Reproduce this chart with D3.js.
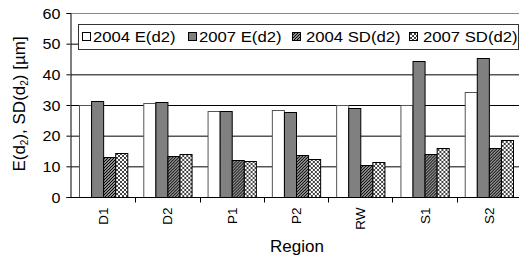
<!DOCTYPE html>
<html>
<head>
<meta charset="utf-8">
<script src="https://cdn.jsdelivr.net/npm/d3@7"></script>
<style>
  body { margin: 0; background: #fff; }
  text { font-family: "Liberation Sans", Arial, sans-serif; fill: #000; }
</style>
</head>
<body>
<div id="chart"></div>
<script>
// data
var regions = ["D1", "D2", "P1", "P2", "RW", "S1", "S2"];
var seriesNames = ["2004 E(d2)", "2007 E(d2)", "2004 SD(d2)", "2007 SD(d2)"];
var e2004 = [30.0, 30.5, 27.9, 28.4, 29.9, 30.0, 34.2];
var e2007 = [31.2, 30.9, 27.9, 27.8, 29.1, 44.3, 45.2];
var sd2004 = [12.9, 13.5, 12.2, 13.6, 10.5, 14.0, 15.9];
var sd2007 = [14.2, 13.9, 11.8, 12.3, 11.3, 16.0, 18.5];
var yTicks = [0, 10, 20, 30, 40, 50, 60];

var W = 519, H = 262;
var stretch = 1.15; // text in the picture is a bit wide

var svg = d3.select("#chart").append("svg")
  .attr("width", W).attr("height", H);

// patterns
var defs = svg.append("defs");
var hatch = defs.append("pattern").attr("id", "hatch")
  .attr("patternUnits", "userSpaceOnUse").attr("width", 3).attr("height", 3);
hatch.append("rect").attr("width", 3).attr("height", 3).attr("fill", "#fff");
hatch.append("path").attr("d", "M-1,1 L1,-1 M0,3 L3,0 M2,4 L4,2")
  .attr("stroke", "#000").attr("stroke-width", 1.3);

var check = defs.append("pattern").attr("id", "check")
  .attr("patternUnits", "userSpaceOnUse").attr("width", 4).attr("height", 4);
check.append("rect").attr("width", 4).attr("height", 4).attr("fill", "#fff");
check.append("path").attr("d", "M0,0 L4,4 M4,0 L0,4")
  .attr("stroke", "#444").attr("stroke-width", 1);

var fills = ["#fff", "#808080", "url(#hatch)", "url(#check)"];
var strokes = ["#555", "#000", "#000", "#000"];
var data = [e2004, e2007, sd2004, sd2007];

// scales
var x = d3.scaleBand().domain(regions).range([71, 521]).padding(0);
var xs = d3.scaleBand().domain(d3.range(4)).range([8, x.bandwidth() - 8]);
var y = d3.scaleLinear().domain([0, 60]).range([197, 13]);

function stretchText(sel) {
  sel.each(function() {
    var w = this.getComputedTextLength();
    d3.select(this).attr("textLength", w * stretch).attr("lengthAdjust", "spacingAndGlyphs");
  });
}

// grid
svg.append("g").selectAll("line").data(yTicks.filter(function(d) { return d > 0; }))
  .enter().append("line")
  .attr("x1", 71).attr("x2", 521)
  .attr("y1", function(d) { return y(d) + 0.5; })
  .attr("y2", function(d) { return y(d) + 0.5; })
  .attr("stroke", function(d) { return d == 60 ? "#888" : "#000"; })
  .attr("stroke-width", 1);

// bars
var groups = svg.append("g").selectAll("g").data(regions).enter().append("g")
  .attr("transform", function(d) { return "translate(" + x(d) + ",0)"; });
groups.selectAll("rect")
  .data(function(d, i) { return data.map(function(s, k) { return {k: k, v: s[i]}; }); })
  .enter().append("rect")
  .attr("x", function(d) { return xs(d.k) + 0.5; })
  .attr("width", xs.bandwidth())
  .attr("y", function(d) { return Math.round(y(d.v)) + 0.5; })
  .attr("height", function(d) { return y(0) - Math.round(y(d.v)); })
  .attr("fill", function(d) { return fills[d.k]; })
  .attr("stroke", function(d) { return strokes[d.k]; })
  .attr("stroke-width", 1);

// y axis
var yAxis = svg.append("g").attr("transform", "translate(70.5,0)")
  .call(d3.axisLeft(y).tickValues(yTicks).tickSize(4).tickPadding(6).tickFormat(d3.format("d")));
yAxis.select(".domain").attr("stroke", "#000");
yAxis.selectAll("text").style("font-size", "14px").attr("dy", "0.36em")
  .call(stretchText);

// x axis
var xAxis = svg.append("g").attr("transform", "translate(0," + 197.5 + ")");
xAxis.append("line").attr("x1", 70).attr("x2", 521).attr("stroke", "#000");
xAxis.selectAll(".tk").data(regions).enter().append("line")
  .attr("x1", function(d) { return Math.round(x(d) + x.bandwidth()) + 0.5; })
  .attr("x2", function(d) { return Math.round(x(d) + x.bandwidth()) + 0.5; })
  .attr("y1", 0).attr("y2", 5).attr("stroke", "#000");
xAxis.selectAll(".lbl").data(regions).enter().append("text")
  .attr("transform", function(d) {
    return "translate(" + (x(d) + x.bandwidth() / 2 + 5) + ",10) rotate(-90)";
  })
  .attr("text-anchor", "end")
  .style("font-size", "13.5px")
  .text(function(d) { return d; });

// legend
var lg = svg.append("g");
lg.append("rect").attr("x", 78.5).attr("y", 24.5).attr("width", 440).attr("height", 25)
  .attr("fill", "#fff").attr("stroke", "#333");
var legendX = [82, 188, 292, 409];
var items = lg.selectAll("g.it").data(seriesNames).enter().append("g")
  .attr("transform", function(d, i) { return "translate(" + legendX[i] + ",0)"; });
items.append("rect").attr("x", 0.5).attr("y", 32.5).attr("width", 8).attr("height", 8)
  .attr("fill", function(d, i) { return fills[i]; })
  .attr("stroke", "#000");
items.append("text").attr("x", function(d, i) { return i < 2 ? 11 : 14; }).attr("y", 42)
  .style("font-size", "14.5px")
  .text(function(d) { return d; })
  .call(stretchText);

// axis titles
svg.append("text").attr("x", 297).attr("y", 252).attr("text-anchor", "middle")
  .style("font-size", "17px").text("Region");

var yt = svg.append("text")
  .attr("transform", "translate(25,104) rotate(-90)")
  .attr("text-anchor", "middle")
  .style("font-size", "17px");
yt.append("tspan").text("E(d");
yt.append("tspan").attr("baseline-shift", "-25%").style("font-size", "10px").text("2");
yt.append("tspan").text("), SD(d");
yt.append("tspan").attr("baseline-shift", "-25%").style("font-size", "10px").text("2");
yt.append("tspan").text(") [µm]");
</script>
</body>
</html>
